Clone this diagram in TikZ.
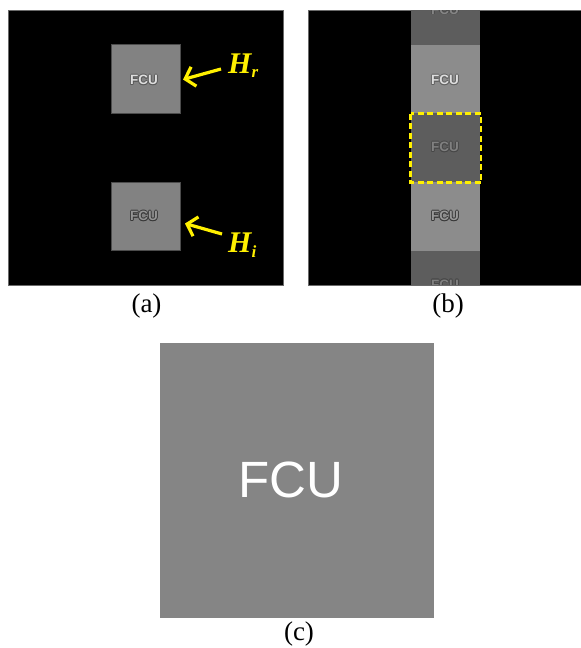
\documentclass[tikz,border=0pt]{standalone}
\usepackage{fontspec}
\setmainfont{Liberation Serif}
\newfontfamily\arialfont{Liberation Sans}
\usetikzlibrary{arrows.meta}
\definecolor{tileA}{HTML}{828282}
\definecolor{bLight}{HTML}{8C8C8C}
\definecolor{bDark}{HTML}{5D5D5D}
\definecolor{cGray}{HTML}{858585}
\definecolor{ylw}{HTML}{FFF000}
\definecolor{edgeG}{HTML}{6A6A6A}
\newcommand{\fcuout}[4]{%
  \foreach \dx/\dy in {-0.7/0,0.7/0,0/-0.7,0/0.7,-0.5/-0.5,0.5/0.5,-0.5/0.5,0.5/-0.5}
    {\node[fcusmall,text=#3] at ([shift={(\dx,\dy)}]#1) {FCU};}
  \node[fcusmall,text=#2] (#4) at (#1) {FCU};}
\begin{document}
\begin{tikzpicture}[x=1pt,y=-1pt,
  panel/.style={fill=black,draw=edgeG,line width=0.5pt},
  tile/.style={draw=black!70,line width=0.4pt},
  fcusmall/.style={inner sep=0pt,font=\arialfont\bfseries\fontsize{13.5}{13.5}\selectfont},
  yarrow/.style={draw=ylw,line width=3.2pt,-{Straight Barb[length=9pt,width=20pt,line width=3.2pt]}},
  hlab/.style={text=ylw,inner sep=0pt,anchor=base west,font=\bfseries\itshape\fontsize{30}{30}\selectfont},
  caption/.style={inner sep=0pt,anchor=base,text height=15pt,text depth=5pt,font=\fontsize{27}{27}\selectfont},
  dbox/.style={draw=ylw,line width=2.6pt,dash pattern=on 6pt off 3.5pt}]
\useasboundingbox[fill=white] (0,0) rectangle (581,648);
% ---------- panel (a)
\draw[panel] (8.5,10) rectangle (283,285);
\draw[tile,fill=tileA] (111,44.5) rectangle (180,113);
\draw[tile,fill=tileA] (111,182) rectangle (180,250.5);
\fcuout{144,80}{black!13}{black!65}{fcuR}
\fcuout{144,216}{black!42}{black!78}{fcuI}
\node[hlab] (Hr) at (228,73) {H\raisebox{-4pt}{\fontsize{17}{17}\selectfont r}};
\node[hlab] (Hi) at (228,252) {H\raisebox{-5pt}{\fontsize{17}{17}\selectfont i}};
\coordinate (hrS) at (221,69);
\coordinate (hrE) at (183,79.5);
\coordinate (hiS) at (222,234);
\coordinate (hiE) at (185,223.5);
\draw[yarrow] (hrS) -- (hrE);
\draw[yarrow] (hiS) -- (hiE);
\node[caption] (capa) at (146.5,312) {(a)};
% ---------- panel (b)
\draw[panel] (308.5,10) rectangle (581,285);
\begin{scope}
\clip (411,10.5) rectangle (480,284.5);
\fill[bDark]  (411,-25) rectangle (480,44.5);
\fill[bLight] (411,44.5) rectangle (480,113);
\fill[bDark]  (411,113) rectangle (480,182);
\fill[bLight] (411,182) rectangle (480,250.5);
\fill[bDark]  (411,250.5) rectangle (480,320);
\fcuout{445,9.5}{black!48}{black!70}{fcuB0}
\fcuout{445,80}{black!13}{black!62}{fcuB1}
\fcuout{445,147}{black!50}{black!72}{fcuB2}
\fcuout{445,216}{black!40}{black!78}{fcuB3}
\fcuout{445,284.5}{black!50}{black!72}{fcuB4}
\end{scope}
\draw[dbox] (410.5,113.5) rectangle (481,182.5);
\node[caption] (capb) at (448,312) {(b)};
% ---------- panel (c)
\fill[cGray] (159.5,343) rectangle (434,617.5);
\node[inner sep=0pt,text=white,font=\arialfont\fontsize{51}{51}\selectfont] (fcuC) at (290.5,480) {FCU};
\node[caption] (capc) at (299,640.5) {(c)};
\end{tikzpicture}
\end{document}
